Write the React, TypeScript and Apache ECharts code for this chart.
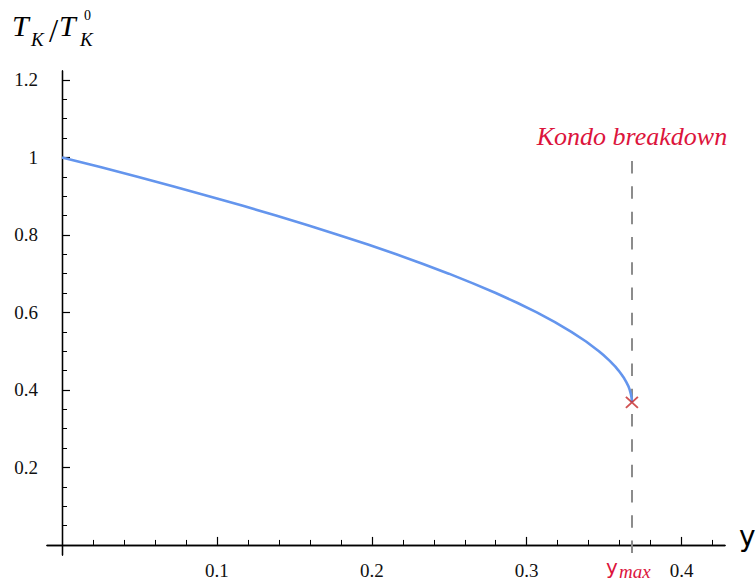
import React, { useEffect, useRef } from "react";
import * as echarts from "echarts";

// Curve: coupling y vs T_K/T_K^0
const yValues = [0, 0.0247, 0.0487, 0.0721, 0.0948, 0.1168, 0.1381, 0.1587, 0.1785, 0.1975, 0.2158, 0.2331, 0.2497, 0.2653, 0.28, 0.2938, 0.3065, 0.3182, 0.3288, 0.3383, 0.3466, 0.3495, 0.3536, 0.3572, 0.3593, 0.3612, 0.3629, 0.3643, 0.3656, 0.3665, 0.3672, 0.3677, 0.3678, 0.3679];
const ratioValues = [1, 0.975, 0.95, 0.925, 0.9, 0.875, 0.85, 0.825, 0.8, 0.775, 0.75, 0.725, 0.7, 0.675, 0.65, 0.625, 0.6, 0.575, 0.55, 0.525, 0.5, 0.49, 0.475, 0.46, 0.45, 0.44, 0.43, 0.42, 0.41, 0.4, 0.39, 0.38, 0.375, 0.368];

const yMax = 0.3679;
const ratioAtYMax = 0.368;
const dashTop = 1.0;
const dashBottom = -0.021;

const xMajorTicks = [0.1, 0.2, 0.3, 0.4];
const xMinorTicks = [0.02, 0.04, 0.06, 0.08, 0.12, 0.14, 0.16, 0.18, 0.22, 0.24, 0.26, 0.28, 0.32, 0.34, 0.36, 0.38, 0.42];
const yMajorTicks = [0.2, 0.4, 0.6, 0.8, 1, 1.2];
const yMinorTicks = [0.05, 0.1, 0.15, 0.25, 0.3, 0.35, 0.45, 0.5, 0.55, 0.65, 0.7, 0.75, 0.85, 0.9, 0.95, 1.05, 1.1, 1.15];

const X_MIN = -0.0097;
const X_MAX = 0.428;
const Y_MIN = -0.026;
const Y_MAX = 1.223;

const SERIF = "Liberation Serif";
const SANS = "DejaVu Sans";
const CRIMSON = "#DC143C";

export default function App() {
  const ref = useRef<HTMLDivElement>(null);

  useEffect(() => {
    if (!ref.current) return;
    const chart = echarts.init(ref.current, null, { renderer: "svg" });

    const axisLine = { onZero: true, lineStyle: { color: "#000", width: 1.3 } };

    const xBase = {
      type: "value" as const,
      min: X_MIN,
      max: X_MAX,
      position: "bottom" as const,
      gridIndex: 0,
      axisLine,
      splitLine: { show: false },
    };
    const yBase = {
      type: "value" as const,
      min: Y_MIN,
      max: Y_MAX,
      position: "left" as const,
      gridIndex: 0,
      axisLine,
      splitLine: { show: false },
    };

    const option: any = {
      animation: false,
      backgroundColor: "#fff",
      grid: { left: 47, right: 31, top: 71, bottom: 26, containLabel: false, outerBoundsMode: "none" },
      xAxis: [
        {
          ...xBase,
          axisTick: { show: true, inside: true, length: 8, customValues: xMajorTicks, lineStyle: { color: "#000", width: 1.2 } },
          axisLabel: { show: true, customValues: xMajorTicks, margin: 6, color: "#111", fontFamily: SERIF, fontSize: 19 },
        },
        {
          ...xBase,
          axisTick: { show: true, inside: true, length: 5, customValues: xMinorTicks, lineStyle: { color: "#000", width: 1 } },
          axisLabel: { show: false },
        },
      ],
      yAxis: [
        {
          ...yBase,
          axisTick: { show: true, inside: true, length: 8, customValues: yMajorTicks, lineStyle: { color: "#000", width: 1.2 } },
          axisLabel: { show: true, customValues: yMajorTicks, margin: 9, color: "#111", fontFamily: SERIF, fontSize: 19 },
        },
        {
          ...yBase,
          axisTick: { show: true, inside: true, length: 5, customValues: yMinorTicks, lineStyle: { color: "#000", width: 1 } },
          axisLabel: { show: false },
        },
      ],
      series: [
        {
          type: "line",
          xAxisIndex: 0,
          yAxisIndex: 0,
          data: yValues.map((v, i) => [v, ratioValues[i]]),
          showSymbol: false,
          symbol: "none",
          smooth: false,
          lineStyle: { color: "#6495ED", width: 2.6 },
          z: 3,
          markLine: {
            silent: true,
            symbol: "none",
            label: { show: false },
            lineStyle: { color: "#8c8c8c", width: 2, type: [12.5, 12.8] },
            data: [[{ coord: [yMax, dashBottom] }, { coord: [yMax, dashTop] }]],
            z: 2,
          },
        },
        {
          type: "scatter",
          xAxisIndex: 0,
          yAxisIndex: 0,
          data: [[yMax, ratioAtYMax]],
          symbol: "path://M0,0L10,10M10,0L0,10",
          symbolSize: [12, 11],
          itemStyle: { color: "transparent", borderColor: "#C62828", borderWidth: 1.8 },
          z: 5,
        },
      ],
      graphic: [
        // y-axis title T_K / T_K^0
        { type: "text", style: { text: "T", x: 12, y: 25, fontFamily: SERIF, fontStyle: "italic", fontSize: 30, fill: "#000", verticalAlign: "middle" } },
        { type: "text", style: { text: "K", x: 31, y: 39.5, fontFamily: SERIF, fontStyle: "italic", fontSize: 19, fill: "#000", verticalAlign: "middle" } },
        { type: "text", style: { text: "/", x: 49, y: 31, fontFamily: SERIF, fontSize: 33, fill: "#000", verticalAlign: "middle" } },
        { type: "text", style: { text: "T", x: 59, y: 25, fontFamily: SERIF, fontStyle: "italic", fontSize: 30, fill: "#000", verticalAlign: "middle" } },
        { type: "text", style: { text: "0", x: 84, y: 15.5, fontFamily: SERIF, fontSize: 14, fill: "#000", verticalAlign: "middle" } },
        { type: "text", style: { text: "K", x: 80, y: 39.5, fontFamily: SERIF, fontStyle: "italic", fontSize: 19, fill: "#000", verticalAlign: "middle" } },
        // x-axis name
        { type: "text", style: { text: "y", x: 739, y: 536, fontFamily: SANS, fontSize: 28, fill: "#000", verticalAlign: "middle" } },
        // Kondo breakdown
        { type: "text", style: { text: "Kondo breakdown", x: 632, y: 136, align: "center", fontFamily: SERIF, fontStyle: "italic", fontSize: 26, fill: CRIMSON, verticalAlign: "middle" } },
        // y_max
        { type: "text", style: { text: "y", x: 606, y: 567, fontFamily: SANS, fontSize: 20, fill: CRIMSON, verticalAlign: "middle" } },
        { type: "text", style: { text: "max", x: 619, y: 571, fontFamily: SERIF, fontStyle: "italic", fontSize: 19, fill: CRIMSON, verticalAlign: "middle" } },
      ],
    };

    chart.setOption(option);
    return () => chart.dispose();
  }, []);

  return (
    <div
      ref={ref}
      style={{ position: "fixed", left: 0, top: 0, width: 756, height: 581, background: "#fff" }}
    />
  );
}
